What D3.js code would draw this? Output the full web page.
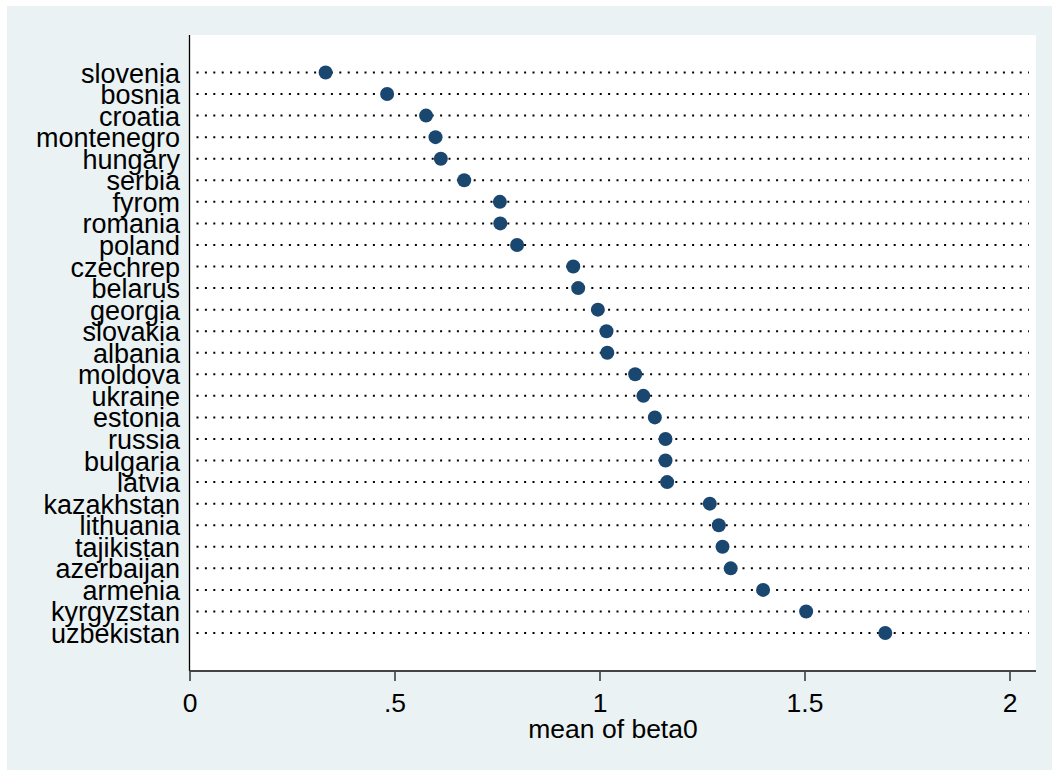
<!DOCTYPE html>
<html lang="en">
<head>
    <meta charset="UTF-8">
    <title>mean of beta0</title>
    <script src="https://d3js.org/d3.v7.min.js"></script>
    <style>
        body { margin: 0; background: #ffffff; }
        text { font-family: "Liberation Sans", Arial, sans-serif; fill: #000; }
    </style>
</head>
<body>
    <div id="chart"></div>
    <script>
        // Countries, top to bottom
        const countries = ["slovenia", "bosnia", "croatia", "montenegro", "hungary", "serbia",
            "fyrom", "romania", "poland", "czechrep", "belarus", "georgia", "slovakia", "albania",
            "moldova", "ukraine", "estonia", "russia", "bulgaria", "latvia", "kazakhstan",
            "lithuania", "tajikistan", "azerbaijan", "armenia", "kyrgyzstan", "uzbekistan"];

        // mean of beta0
        const beta0 = [0.332, 0.482, 0.577, 0.600, 0.613, 0.670,
            0.757, 0.758, 0.799, 0.936, 0.948, 0.996, 1.017, 1.019,
            1.087, 1.107, 1.135, 1.161, 1.161, 1.165, 1.269,
            1.291, 1.300, 1.320, 1.399, 1.504, 1.697];

        const xTicks = [0, 0.5, 1, 1.5, 2];
        const xTickLabels = ["0", ".5", "1", "1.5", "2"];

        const data = countries.map((c, i) => ({ name: c, value: beta0[i] }));

        const W = 1052, H = 770;
        const plot = { left: 189.5, right: 1036, top: 35, bottom: 671 };

        const svg = d3.select("#chart").append("svg")
            .attr("width", W).attr("height", H);

        // outer graph region
        svg.append("rect").attr("x", 7).attr("y", 6)
            .attr("width", W - 7).attr("height", H - 6)
            .attr("fill", "#eaf2f3");

        // plot region
        svg.append("rect")
            .attr("x", plot.left).attr("y", plot.top)
            .attr("width", plot.right - plot.left).attr("height", plot.bottom - plot.top)
            .attr("fill", "#ffffff");

        const x = d3.scaleLinear().domain([0, 2]).range([189.5, 1009.5]);
        const y = d3.scalePoint().domain(countries).range([72.5, 633]);

        // dotted guide lines
        svg.append("g").selectAll("line")
            .data(data)
            .join("line")
            .attr("x1", plot.left + 7)
            .attr("x2", plot.right - 7)
            .attr("y1", d => y(d.name))
            .attr("y2", d => y(d.name))
            .attr("stroke", "#000")
            .attr("stroke-width", 2)
            .attr("stroke-dasharray", "2 6.4");

        // y axis line
        svg.append("line")
            .attr("x1", plot.left).attr("x2", plot.left)
            .attr("y1", plot.top).attr("y2", plot.bottom)
            .attr("stroke", "#000").attr("stroke-width", 1.3);

        // category labels
        svg.append("g").selectAll("text")
            .data(data)
            .join("text")
            .attr("x", 180)
            .attr("y", d => y(d.name) + 10)
            .attr("text-anchor", "end")
            .attr("font-size", "27px")
            .text(d => d.name);

        // x axis
        const xAxis = d3.axisBottom(x)
            .tickValues(xTicks)
            .tickFormat((d, i) => xTickLabels[i])
            .tickSize(10)
            .tickPadding(12);

        const gx = svg.append("g")
            .attr("transform", `translate(0,${plot.bottom})`)
            .call(xAxis);
        gx.select(".domain").remove();
        gx.selectAll(".tick line").attr("stroke", "#333").attr("stroke-width", 1.5);
        gx.selectAll(".tick text")
            .attr("font-size", "26.5px")
            .attr("font-family", "'Liberation Sans', Arial, sans-serif")
            .attr("fill", "#000");
        gx.append("line")
            .attr("x1", plot.left).attr("x2", plot.right)
            .attr("y1", 0).attr("y2", 0)
            .attr("stroke", "#444").attr("stroke-width", 2);

        svg.append("text")
            .attr("x", 613)
            .attr("y", 738)
            .attr("text-anchor", "middle")
            .attr("font-size", "26.5px")
            .text("mean of beta0");

        // markers
        svg.append("g").selectAll("circle")
            .data(data)
            .join("circle")
            .attr("cx", d => x(d.value))
            .attr("cy", d => y(d.name))
            .attr("r", 7)
            .attr("fill", "#1a476f");
    </script>
</body>
</html>
